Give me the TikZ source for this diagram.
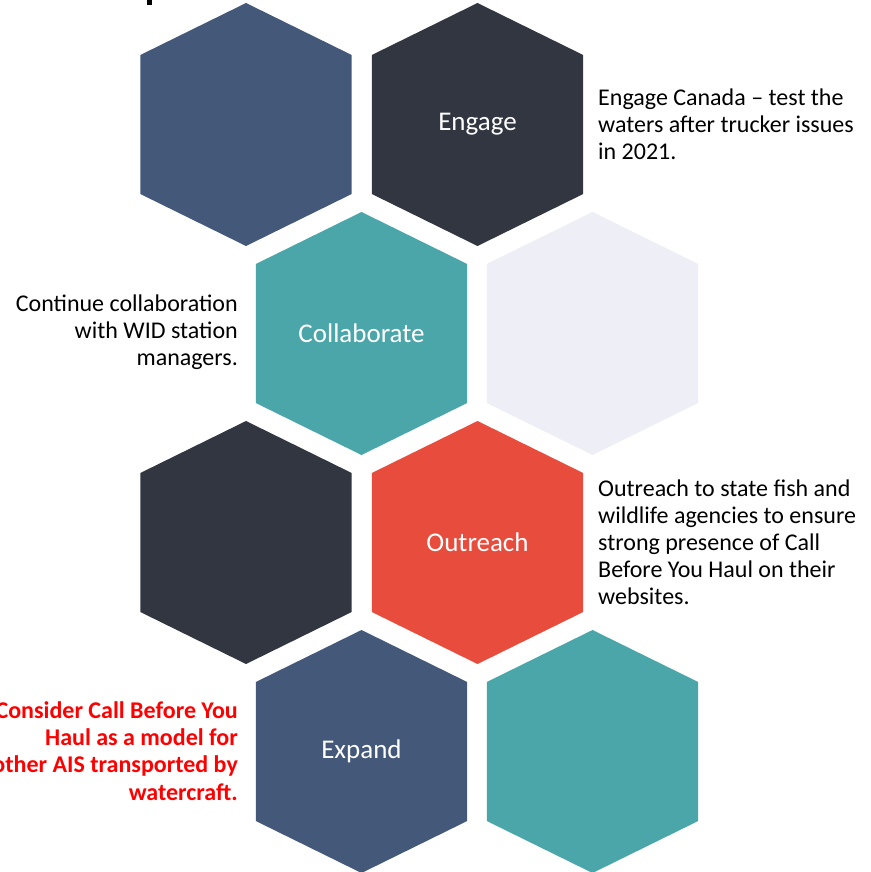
\documentclass[tikz,border=0pt]{standalone}
\usepackage{fontspec}
\setmainfont{Carlito}
\definecolor{hexblue}{HTML}{44597A}
\definecolor{hexdark}{HTML}{323640}
\definecolor{hexteal}{HTML}{4BA6A9}
\definecolor{hexlight}{HTML}{EDEEF6}
\definecolor{hexred}{HTML}{E84C3D}
\definecolor{txtred}{HTML}{FF0000}
\tikzset{
  hexlabel/.style={text=white,font=\fontsize{27}{32}\selectfont,inner sep=0pt},
  desc/.style={font=\fontsize{24}{27}\selectfont,inner sep=0pt},
}
\newcommand{\hexat}[3]{%
  \fill[#1] (#2,#3) ++(0,-121.5) -- ++(105.7,52) -- ++(0,139) -- ++(-105.7,52) -- ++(-105.7,-52) -- ++(0,-139) -- cycle;}
\begin{document}
\begin{tikzpicture}[x=1pt,y=-1pt]
\useasboundingbox (0,0) rectangle (870,872);
\fill[black] (147,0) rectangle (151.5,5);
% row 1
\hexat{hexblue}{246}{124.5}
\hexat{hexdark}{477.5}{124.5}
% row 2
\hexat{hexteal}{361.5}{333.5}
\hexat{hexlight}{592.5}{333.5}
% row 3
\hexat{hexdark}{246}{542.5}
\hexat{hexred}{477.5}{542.5}
% row 4
\hexat{hexblue}{361.5}{751.5}
\hexat{hexteal}{592.5}{751.5}
\node[hexlabel] (engage) at (477.5,124.5) {Engage};
\node[hexlabel] (collab) at (361.5,333.5) {Collaborate};
\node[hexlabel] (outreach) at (477.5,542.5) {Outreach};
\node[hexlabel] (expand) at (361.5,751.5) {Expand};
\node[desc,anchor=west,align=left] (engtxt) at (598,124) {Engage Canada -- test the\\waters after trucker issues\\in 2021.};
\node[desc,anchor=east,align=right] (coltxt) at (238,332) {Continue collaboration\\with WID station\\managers.};
\node[desc,anchor=west,align=left] (outtxt) at (598,542.5) {Outreach to state fish and\\wildlife agencies to ensure\\strong presence of Call\\Before You Haul on their\\websites.};
\node[desc,anchor=east,align=right,text=txtred,font=\fontsize{24}{27.3}\selectfont\bfseries] (exptxt) at (238,751) {Consider Call Before You\\Haul as a model for\\other AIS transported by\\watercraft.};
\end{tikzpicture}
\end{document}
